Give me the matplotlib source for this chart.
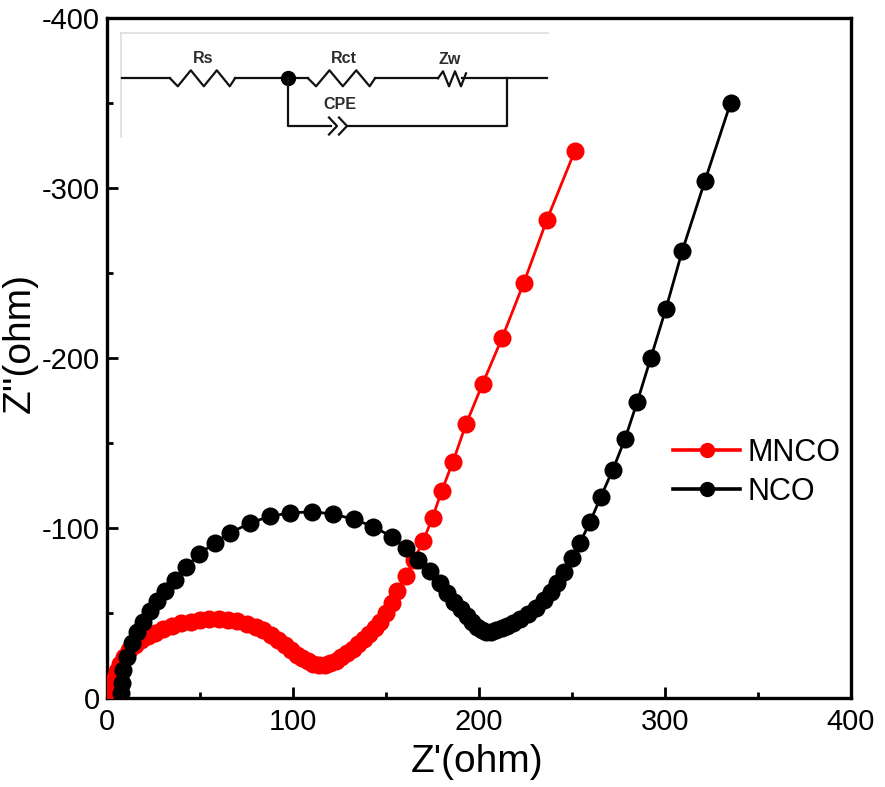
import matplotlib
matplotlib.use("Agg")
import matplotlib.pyplot as plt
from matplotlib.lines import Line2D

plt.rcParams['font.family'] = ['Liberation Sans', 'DejaVu Sans']
plt.rcParams['axes.unicode_minus'] = False

# ---------------- data (Z' , Z'') ----------------
mnco_points = [(3, -1), (3.5, -4), (4, -8), (4.5, -12), (5.5, -16), (7, -20), (9, -24), (12, -28),
               (15, -31), (18.5, -34), (22, -36.5), (26, -38.5), (30, -40.5), (35, -42.5), (40, -44),
               (45, -45), (50, -46), (55, -46.3), (60, -46.3), (65, -46), (70, -45.2), (75, -43.8),
               (80, -42), (84, -40), (88, -37), (92, -34), (95.5, -31), (99, -28), (102, -25.5),
               (105, -23.5), (108, -21.5), (111, -20), (114, -19.5), (117, -19.5), (120, -20.5),
               (123, -22), (126, -24), (129, -26.5), (132, -29), (135, -32), (138, -35), (141, -37.5),
               (144, -41), (147, -45), (150, -50), (153, -56), (156, -63), (160.5, -72), (165, -81),
               (170, -92.5), (175, -106), (180, -122), (186, -139), (193, -161), (202, -185),
               (212.5, -212), (224, -244), (236.4, -281), (251.6, -322)]

nco_points = [(7.4, -3), (8, -8.6), (8.8, -16.5), (10.6, -24.3), (13.3, -32.2), (16.3, -39),
              (19.5, -44.9), (23.1, -51.4), (27, -57.2), (31.2, -63.1), (36.6, -69.4), (42.5, -76.9),
              (49.6, -84.7), (58.1, -91.4), (66.1, -97.2), (76.9, -102.8), (87.6, -107),
              (98.4, -108.8), (110, -109.6), (121.7, -108.2), (132.8, -105.1), (143.2, -100.8),
              (153.1, -94.9), (160.8, -88), (167.4, -81.2), (173.7, -74.9), (179, -67.8),
              (183, -61.9), (186.6, -56.6), (190.2, -52.2), (193.4, -48.2), (196.1, -44.9),
              (198.8, -41.6), (201.4, -40), (203.8, -39), (206.3, -39), (209.1, -40), (212.2, -41),
              (215.2, -42.4), (218.4, -44.3), (222, -46.5), (226.5, -49.4), (230.6, -53.1),
              (234.9, -57.6), (238.5, -62.5), (242.1, -67.8), (245.7, -73.9), (249.8, -82.2),
              (254.3, -91.4), (259.7, -103.5), (265.5, -118.4), (271.9, -134.1), (278.5, -152.4),
              (285.1, -174.3), (292.3, -199.8), (300.5, -229), (309.3, -263.1), (321.5, -304.3),
              (335.3, -350.2)]

series_labels = ["MNCO", "NCO"]
series_colors = ["#ff0000", "#000000"]

x_ticks = [0, 100, 200, 300, 400]
y_ticks = [0, -100, -200, -300, -400]
x_label = "Z'(ohm)"
y_label = "Z''(ohm)"

# ---------------- figure ----------------
W, H = 885, 787
fig = plt.figure(figsize=(W / 100, H / 100), dpi=100)
L, R, T, B = 107, 851, 18, 698
ax = fig.add_axes([L / W, 1 - B / H, (R - L) / W, (B - T) / H])

handles = []
for pts, lab, col in zip([mnco_points, nco_points], series_labels, series_colors):
    xs = [p[0] for p in pts]
    ys = [p[1] for p in pts]
    ax.plot(xs, ys, '-', color=col, lw=2.0, zorder=2)
    ax.scatter(xs, ys, s=13 ** 2, c=col, linewidths=0, zorder=3)
    handles.append(Line2D([], [], color=col, lw=2.6, marker='o', markersize=10,
                          markerfacecolor=col, markeredgecolor=col))

ax.set_xlim(0, 400)
ax.set_ylim(0, -400)
ax.set_xticks(x_ticks)
ax.set_yticks(y_ticks)
ax.set_xticks([50, 150, 250, 350], minor=True)
ax.set_yticks([-50, -150, -250, -350], minor=True)
ax.tick_params(which='both', direction='in', labelsize=21, top=False, right=False, width=2)
ax.tick_params(which='major', length=8)
ax.tick_params(which='minor', length=4)
ax.tick_params(axis='x', pad=7)
ax.tick_params(axis='y', pad=5)
for s in ax.spines.values():
    s.set_linewidth(2.4)

ax.set_xlabel(x_label, fontsize=28)
ax.set_ylabel(y_label, fontsize=28)
ax.xaxis.set_label_coords(0.497, -0.067)
ax.yaxis.set_label_coords(-0.093, 0.522)

leg = ax.legend(handles, series_labels,
                loc='center left', bbox_to_anchor=((673 - L) / (R - L), (B - 472.5) / (B - T)),
                frameon=False, fontsize=22, handlelength=2.2, handletextpad=0.25,
                labelspacing=0.3, borderpad=0, borderaxespad=0)

# ---------------- inset: equivalent circuit ----------------
cx0, cx1, cy0, cy1 = 118, 549, 30, 138
cax = fig.add_axes([cx0 / W, 1 - cy1 / H, (cx1 - cx0) / W, (cy1 - cy0) / H])
cax.set_xlim(cx0, cx1)
cax.set_ylim(cy1, cy0)
cax.axis('off')
cax.patch.set_visible(False)
edge = '#dddddd'
cax.plot([120.5, 548], [32.7, 32.7], color=edge, lw=1.2)
cax.plot([120.5, 120.5], [32.7, 137], color=edge, lw=1.2)

wc = '#111111'
lw = 1.6
yw = 78.3


def zig(x0, x1, amp=8, n=2):
    seg = (x1 - x0) / (2 * n + 1)
    xs = [x0, x0 + seg * 0.6]
    ys = [yw, yw + amp]
    for i in range(n):
        xs += [x0 + seg * (1.6 + 2 * i), x0 + seg * (2.6 + 2 * i)]
        ys += [yw - amp, yw + amp]
    xs.append(x1)
    ys.append(yw)
    return xs, ys


cax.plot([121.7, 170], [yw, yw], color=wc, lw=lw)
xs, ys = zig(170, 235)
cax.plot(xs, ys, color=wc, lw=lw)
cax.plot([235, 308], [yw, yw], color=wc, lw=lw)
xs, ys = zig(308, 375)
cax.plot(xs, ys, color=wc, lw=lw)
cax.plot([375, 438], [yw, yw], color=wc, lw=lw)
cax.plot([438, 443, 449, 455, 461, 466], [yw, yw - 7, yw + 8, yw - 7, yw + 8, yw - 5], color=wc, lw=lw)
cax.plot([462, 546.7], [yw, yw], color=wc, lw=lw)
cax.plot([287.5], [yw], 'o', color='black', markersize=10)
cax.plot([288.3, 288.3, 331], [yw, 126, 126], color=wc, lw=lw)
cax.plot([329, 337, 329], [117.5, 126, 134.5], color=wc, lw=lw)
cax.plot([339, 347, 339], [117.5, 126, 134.5], color=wc, lw=lw)
cax.plot([347, 506.7, 506.7], [126, 126, yw], color=wc, lw=lw)

tc = '#2b2b2b'
cax.text(203, 58.5, 'Rs', fontsize=11.5, fontweight='bold', color=tc, ha='center', va='center')
cax.text(344, 58.5, 'Rct', fontsize=11.5, fontweight='bold', color=tc, ha='center', va='center')
cax.text(450, 59.5, 'Zw', fontsize=11.5, fontweight='bold', color=tc, ha='center', va='center')
cax.text(340, 104.5, 'CPE', fontsize=11.5, fontweight='bold', color=tc, ha='center', va='center')

fig.savefig('out.png', dpi=100)
